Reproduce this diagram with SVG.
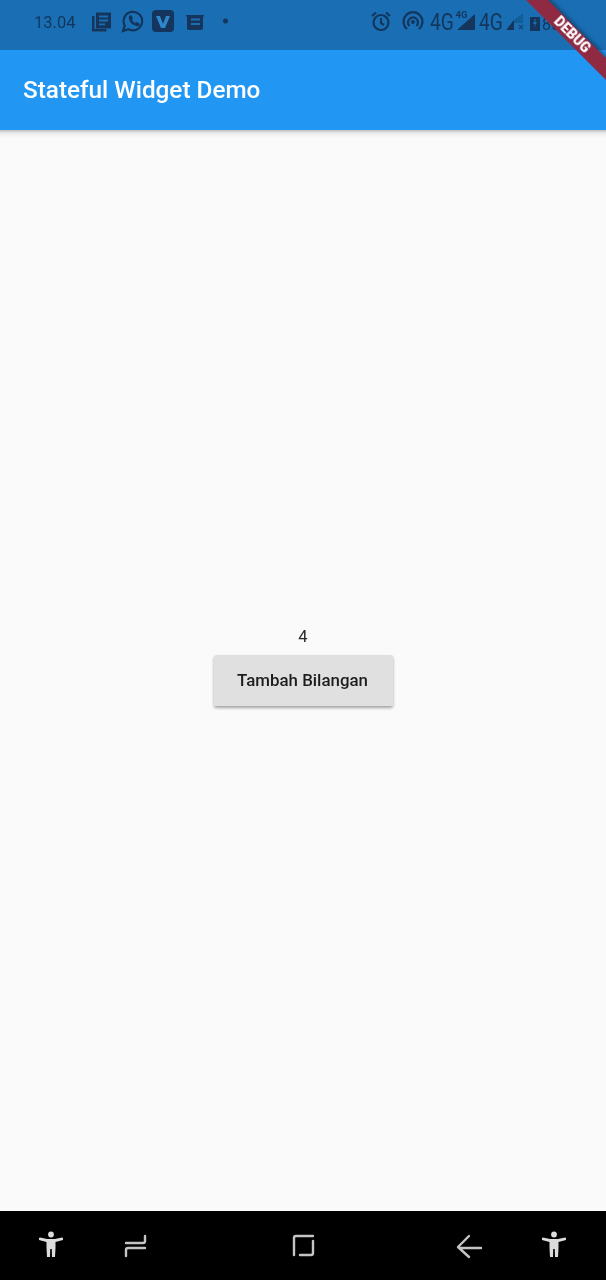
<svg xmlns="http://www.w3.org/2000/svg" width="606" height="1280" viewBox="0 0 606 1280">
<defs>
<style>
.t{font-family:Roboto,"Liberation Sans",sans-serif}
.ic{fill:#12365c}
.s{fill:none;stroke:#12365c;stroke-width:2.2}
.n{fill:none;stroke:#c4c4c4;stroke-width:2.4;stroke-linecap:round;stroke-linejoin:round}
.soft{filter:url(#soft)}
</style>
<filter id="soft" x="-5%" y="-5%" width="110%" height="110%"><feGaussianBlur stdDeviation="0.4"/></filter>
<linearGradient id="sh" x1="0" y1="0" x2="0" y2="1"><stop offset="0" stop-color="#bdbdbd"/><stop offset="0.4" stop-color="#ececec"/><stop offset="1" stop-color="#fafafa"/></linearGradient>
<filter id="bs" x="-10%" y="-20%" width="120%" height="150%"><feDropShadow dx="0" dy="2" stdDeviation="1.6" flood-color="#000" flood-opacity="0.35"/></filter>
<filter id="rs" x="-10%" y="-50%" width="120%" height="200%"><feGaussianBlur stdDeviation="2"/></filter>
<g id="person"><circle cx="0" cy="-10.500" r="2.900" fill="#dcdcdc"/><path d="M-12,-7 L-11,-7.500 L-4,-6 L4,-6 L11,-7.500 L12,-7 L12,-5 L4.500,-3 L4.500,3 L4,12 L1,12 L0.800,4 L-0.800,4 L-1,12 L-4,12 L-4.500,3 L-4.500,-3 L-12,-5 Z" fill="#dcdcdc"/></g>
</defs>
<rect width="606" height="1280" fill="#fafafa"/>
<g id="status-bar">
<rect width="606" height="50" fill="#1a6fb4"/>
<g class="soft">
<text class="t" x="34" y="28" font-size="16.500" fill="#12365c">13.04</text>
<path class="ic" d="M92,16 h2.500 v13 h12 v2.500 h-14.500 Z"/><path class="ic" fill-rule="evenodd" d="M96,12.500 h15 v16 h-15 Z M99,15.500 v2 h9 v-2 Z M99,19.500 v2 h9 v-2 Z M99,23.500 v1.800 h6 v-1.800 Z"/>
<path class="s" d="M123,31 l1.700,-5.500 a9.300,9.300 0 1 1 3.800,3.800 Z"/><path class="ic" d="M129,16 l2,-1 2,3 -1,2 q1,2 3,3 l2,-1 3,2 -1,2 q-4,1 -8,-3 q-3,-4 -2,-7Z"/>
<rect x="152" y="10" width="22" height="22" rx="4" class="ic"/><path d="M156,16 h4 l3,8 3,-8 h4 l-5,12 h-4 Z" fill="#2f86cc"/>
<path class="ic" fill-rule="evenodd" d="M186,15 h18 l-1,3 v10 a2,2 0 0 1 -2,2 h-12 a2,2 0 0 1 -2,-2 v-10 Z M191,18.500 v2 h9 v-2 Z M191,23 v2 h9 v-2 Z"/>
<circle class="ic" cx="225.500" cy="21" r="2.500"/>
<circle class="s" cx="381" cy="22.500" r="7.500"/><path class="s" d="M381,18 v5 l3,2"/><path class="s" d="M372,16 l4,-3.500 M390,16 l-4,-3.500"/>
<path class="s" d="M407,29 a9.500,9.500 0 1 1 12,0"/><path class="s" d="M409.500,26 a5,5 0 1 1 7,0"/><circle class="ic" cx="413" cy="22" r="2"/>
<text class="t" font-size="23" transform="translate(430,30) scale(0.84,1)" fill="#12365c">4G</text>
<text class="t" x="455.500" y="18" font-size="9.500" font-weight="700" fill="#12365c">4G</text>
<path class="ic" d="M475,14 v16 h-18 Z"/>
<text class="t" font-size="23" transform="translate(479,30) scale(0.84,1)" fill="#12365c">4G</text>
<path class="ic" d="M514,20 v10 h-8 Z"/><path d="M514,20 l9,-7 v10 h-9 Z" fill="#12365c" opacity=".3"/><path d="M519,25 l4,4 M523,25 l-4,4" stroke="#12365c" stroke-width="1.200" opacity=".7"/>
<path class="ic" fill-rule="evenodd" d="M530,17 h10 v14 h-10 Z M535,19 l-2,5 h2 l-1,4 3,-6 h-2 l1,-3 Z"/>
<text class="t" x="542" y="30" font-size="16" fill="#12365c">85</text>
</g>
</g>
<g id="app-bar">
<rect y="130" width="606" height="8" fill="url(#sh)"/>
<rect y="50" width="606" height="80" fill="#2196f3"/>
<text class="t soft" x="23" y="98" font-size="24.300" font-weight="500" fill="#fff">Stateful Widget Demo</text>
</g>
<g id="debug-banner">
<path d="M545,-6 L616,65 L616,85 L525,-6 Z" fill="#000" opacity=".35" filter="url(#rs)"/>
<path d="M548,0 L606,58 V80 L526,0 Z" fill="#8f2a42"/>
<text class="t soft" x="0" y="0" font-size="14" font-weight="900" fill="#fff" text-anchor="middle" transform="translate(569,38) rotate(45)">DEBUG</text>
</g>
<g id="counter"><text class="t soft" x="303" y="642" font-size="16.500" fill="#2a2a2a" text-anchor="middle">4</text></g>
<g id="button">
<rect x="214" y="655" width="179" height="51" rx="2" fill="#e0e0e0" filter="url(#bs)"/>
<text class="t soft" x="302.500" y="686" font-size="16.500" font-weight="500" fill="#1f1f1f" text-anchor="middle" textLength="131" lengthAdjust="spacingAndGlyphs">Tambah Bilangan</text>
</g>
<g id="nav-bar">
<rect y="1211" width="606" height="69" fill="#000"/>
<g class="soft">
<use href="#person" x="51" y="1245"/>
<path class="n" d="M126,1256 V1250 Q126,1248 128,1248 H145 M126,1243 H143 Q145,1243 145,1241 V1236"/>
<path class="n" d="M313,1236 H296 Q294,1236 294,1238 V1255 M300,1255 H311 Q313,1255 313,1253 V1241"/>
<path class="n" d="M481,1248 H459 M469,1236 L458,1247 L469,1257"/>
<use href="#person" x="554" y="1245"/>
</g>
</g>
</svg>
